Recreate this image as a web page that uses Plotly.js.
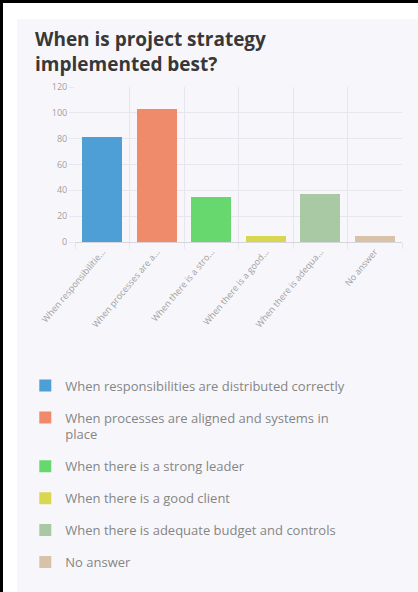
<!DOCTYPE html>
<html>
<head>
<meta charset="utf-8">
<script src="https://cdn.plot.ly/plotly-3.0.1.min.js"></script>
<style>
  html, body { margin: 0; padding: 0; background: #ffffff; }
  #frame { position: relative; width: 418px; height: 592px; box-sizing: border-box;
           border-left: 3px solid #000; border-top: 3px solid #000; overflow: hidden; }
  #chart { position: absolute; left: 14px; top: 16px; width: 401px; height: 573px; }
</style>
</head>
<body>
<div id="frame"><div id="chart"></div></div>
<script>
const categories = [
  "When responsibilities are distributed correctly",
  "When processes are aligned and systems in place",
  "When there is a strong leader",
  "When there is a good client",
  "When there is adequate budget and controls",
  "No answer"
];
const tickLabels = [
  "When responsibilitie...",
  "When processes are a...",
  "When there is a stro...",
  "When there is a good...",
  "When there is adequa...",
  "No answer"
];
const legendLabels = [
  "When responsibilities are distributed correctly",
  "When processes are aligned and systems in<br>place",
  "When there is a strong leader",
  "When there is a good client",
  "When there is adequate budget and controls",
  "No answer"
];
const values = [81, 103, 35, 5, 37, 5];
const colors = ["#4e9fd6", "#ef8b6a", "#66d86e", "#d9d750", "#a9c9a4", "#d8c2a9"];

const traces = categories.map((c, i) => ({
  type: "bar",
  x: [tickLabels[i]],
  y: [values[i]],
  name: legendLabels[i],
  legendgroup: "g" + i,
  marker: { color: colors[i], line: { width: 0 } },
  hoverinfo: "y"
}));

const layout = {
  width: 401, height: 573,
  paper_bgcolor: "#f7f7fb",
  plot_bgcolor: "#f7f7fb",
  margin: { l: 58, r: 16, t: 68, b: 350, autoexpand: false },
  barmode: "stack",
  bargap: 0.27,
  showlegend: true,
  font: { family: "'Open Sans', sans-serif", color: "#999" },
  title: {
    text: "When is project strategy<br>implemented best?",
    x: 0.045, xanchor: "left", xref: "container",
    y: 0.953, yanchor: "top", yref: "container",
    font: { family: "'Open Sans', sans-serif", size: 19, color: "#383838", weight: 700 }
  },
  xaxis: {
    type: "category",
    categoryorder: "array",
    categoryarray: tickLabels,
    tickson: "boundaries",
    showgrid: true,
    gridcolor: "#e6e6ec",
    gridwidth: 1,
    tickangle: -50,
    tickfont: { size: 9, color: "#a0a0a0" },
    ticks: "outside", ticklen: 6, tickcolor: "#e6e6ec",
    showline: true, linecolor: "#d6d6dc", linewidth: 1,
    fixedrange: true
  },
  yaxis: {
    range: [0, 120],
    dtick: 20,
    showgrid: true,
    gridcolor: "#e6e6ec",
    zeroline: false,
    tickfont: { size: 9, color: "#a0a0a0" },
    ticks: "outside", ticklen: 5, tickcolor: "#e6e6ec",
    showline: false,
    fixedrange: true
  },
  legend: {
    x: -0.152, xanchor: "left",
    y: -0.83, yanchor: "top",
    orientation: "v",
    traceorder: "grouped",
    tracegroupgap: 12,
    valign: "top",
    font: { size: 13, color: "#858585", family: "'Open Sans', sans-serif" },
    bgcolor: "rgba(0,0,0,0)"
  }
};

Plotly.newPlot("chart", traces, layout, { displayModeBar: false, staticPlot: true });
</script>
</body>
</html>
